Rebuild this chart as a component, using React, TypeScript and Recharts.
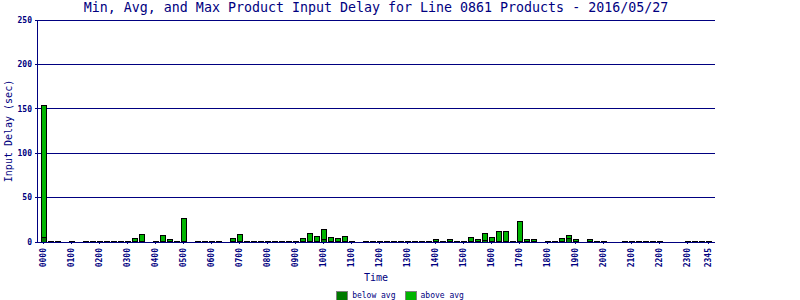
import {
  BarChart,
  Bar,
  XAxis,
  YAxis,
  CartesianGrid,
  Legend,
  Label,
} from 'recharts'

const NAVY = '#000080'
const MONO = '"DejaVu Sans Mono", "Liberation Mono", monospace'

const TITLE = 'Min, Avg, and Max Product Input Delay for Line 0861 Products - 2016/05/27'

// 15-minute slots across the day
const SLOTS = [
  '0000', '0015', '0030', '0045', '0100', '0115', '0130', '0145',
  '0200', '0215', '0230', '0245', '0300', '0315', '0330', '0345',
  '0400', '0415', '0430', '0445', '0500', '0515', '0530', '0545',
  '0600', '0615', '0630', '0645', '0700', '0715', '0730', '0745',
  '0800', '0815', '0830', '0845', '0900', '0915', '0930', '0945',
  '1000', '1015', '1030', '1045', '1100', '1115', '1130', '1145',
  '1200', '1215', '1230', '1245', '1300', '1315', '1330', '1345',
  '1400', '1415', '1430', '1445', '1500', '1515', '1530', '1545',
  '1600', '1615', '1630', '1645', '1700', '1715', '1730', '1745',
  '1800', '1815', '1830', '1845', '1900', '1915', '1930', '1945',
  '2000', '2015', '2030', '2045', '2100', '2115', '2130', '2145',
  '2200', '2215', '2230', '2245', '2300', '2315', '2330', '2345',
]

const TICK_LABELS = [
  '0000', '0100', '0200', '0300', '0400', '0500', '0600', '0700',
  '0800', '0900', '1000', '1100', '1200', '1300', '1400', '1500',
  '1600', '1700', '1800', '1900', '2000', '2100', '2200', '2300', '2345',
]

const Y_TICKS = [0, 50, 100, 150, 200, 250]

// max delay per slot (sec), null = no products
const MAX_DELAY: (number | null)[] = [
  154, 1, 1, null, 1, null, 1, 1,
  1, 1, 1, 1, 1, 4.5, 8.2, null,
  1, 7.1, 2.6, 1, 26.2, null, 1, 1,
  1, 1, null, 4.5, 9, 1, 1, 1,
  1, 1, 1, 1, 1, 4.5, 10.1, 6.7,
  14.6, 5.6, 4.5, 6.7, 1, null, 1, 1,
  1, 1, 1, 1, 1, 1, 1, 1,
  2.6, 1, 2.6, 1, 1, 4.9, 2.6, 9.4,
  4.9, 11.6, 11.6, 1, 23.2, 2.6, 2.6, null,
  1, 1, 3.7, 7.1, 2.6, null, 2.6, 1,
  1, null, null, 1, 1, 1, 1, 1,
  1, null, null, null, 1, 1, 1, 1,
]

// avg delay per slot (sec)
const AVG_DELAY: (number | null)[] = [
  5.6, 1, 1, null, 1, null, 1, 1,
  1, 1, 1, 1, 1, 1, 1, null,
  1, 1, 1, 1, 1, null, 1, 1,
  1, 1, null, 1, 1, 1, 1, 1,
  1, 1, 1, 1, 1, 1, 1, 1,
  2.6, 1, 1, 1, 1, null, 1, 1,
  1, 1, 1, 1, 1, 1, 1, 1,
  1, 1, 1, 1, 1, 1, 1, 2,
  1, 1, 1, 1, 1, 1, 1, null,
  1, 1, 1, 3.4, 1, null, 1, 1,
  1, null, null, 1, 1, 1, 1, 1,
  1, null, null, null, 1, 1, 1, 1,
]

const BELOW_COLOR = '#007a00'
const ABOVE_COLOR = '#00b400'

const XTick = ({ x, y, payload }: any) => (
  <text
    x={x}
    y={y}
    transform={`rotate(-90 ${x} ${y})`}
    textAnchor="end"
    dominantBaseline="central"
    fontSize={8}
    fontWeight="bold"
    fontFamily={MONO}
    fill={NAVY}
  >
    {payload.value}
  </text>
)

const LegendBox = () => (
  <div
    style={{
      height: 14,
      display: 'flex',
      justifyContent: 'center',
      alignItems: 'flex-start',
      gap: 9,
      paddingTop: 5,
      boxSizing: 'border-box',
      fontFamily: MONO,
      fontSize: 8,
      lineHeight: '10px',
      color: NAVY,
    }}
  >
    {[
      ['below avg', BELOW_COLOR],
      ['above avg', ABOVE_COLOR],
    ].map(([name, color]) => (
      <div key={name} style={{ display: 'flex', alignItems: 'flex-start', gap: 4 }}>
        <div style={{ width: 10, height: 10, background: color, border: '1px solid #808080' }} />
        <span>{name}</span>
      </div>
    ))}
  </div>
)

export default function App() {
  const data = SLOTS.map((time, i) => {
    const max = MAX_DELAY[i]
    const avg = AVG_DELAY[i]
    return {
      time,
      below: avg,
      above: max == null || avg == null ? null : max - avg,
    }
  })

  return (
    <div style={{ position: 'absolute', left: 0, top: 0, width: 800, height: 300, background: '#fff', overflow: 'hidden' }}>
      <div
        style={{
          position: 'absolute',
          left: 0,
          top: 0,
          width: 752,
          textAlign: 'center',
          fontFamily: MONO,
          fontSize: 13.3,
          lineHeight: '16px',
          color: NAVY,
          whiteSpace: 'nowrap',
        }}
      >
        {TITLE}
      </div>
      <BarChart
        width={800}
        height={300}
        data={data}
        margin={{ top: 20, right: 85, left: 0, bottom: 0 }}
        style={{ shapeRendering: 'crispEdges' }}
      >
        <CartesianGrid vertical={false} stroke={NAVY} strokeWidth={1} />
        <XAxis
          dataKey="time"
          ticks={TICK_LABELS}
          interval={0}
          height={44}
          padding={{ left: 3, right: 3 }}
          tick={<XTick />}
          tickSize={2}
          tickMargin={4}
          axisLine={{ stroke: NAVY }}
          tickLine={{ stroke: NAVY }}
        >
          <Label
            content={({ viewBox }: any) => (
              <text
                x={viewBox.x + viewBox.width / 2}
                y={viewBox.y + 39}
                textAnchor="middle"
                fontSize={10}
                fontFamily={MONO}
                fill={NAVY}
              >
                Time
              </text>
            )}
          />
        </XAxis>
        <YAxis
          width={37}
          domain={[0, 250]}
          ticks={Y_TICKS}
          tickSize={2}
          tickMargin={3}
          tick={{ fontSize: 8, fontWeight: 'bold', fontFamily: MONO, fill: NAVY }}
          axisLine={{ stroke: NAVY }}
          tickLine={{ stroke: NAVY }}
        >
          <Label
            content={({ viewBox }: any) => {
              const cx = 12
              const cy = viewBox.y + viewBox.height / 2
              return (
                <text
                  x={cx}
                  y={cy}
                  transform={`rotate(-90 ${cx} ${cy})`}
                  textAnchor="middle"
                  fontSize={10}
                  fontFamily={MONO}
                  fill={NAVY}
                >
                  Input Delay (sec)
                </text>
              )
            }}
          />
        </YAxis>
        <YAxis
          yAxisId="right"
          orientation="right"
          width={0}
          domain={[0, 250]}
          tick={false}
          tickLine={false}
          axisLine={{ stroke: NAVY }}
        />
        <Legend
          verticalAlign="bottom"
          wrapperStyle={{ left: 0, width: 800 }}
          content={<LegendBox />}
        />
        <Bar dataKey="below" name="below avg" stackId="a" fill={BELOW_COLOR} stroke="#000" strokeWidth={1} barSize={5} isAnimationActive={false} />
        <Bar dataKey="above" name="above avg" stackId="a" fill={ABOVE_COLOR} stroke="#000" strokeWidth={1} barSize={5} isAnimationActive={false} />
      </BarChart>
    </div>
  )
}
